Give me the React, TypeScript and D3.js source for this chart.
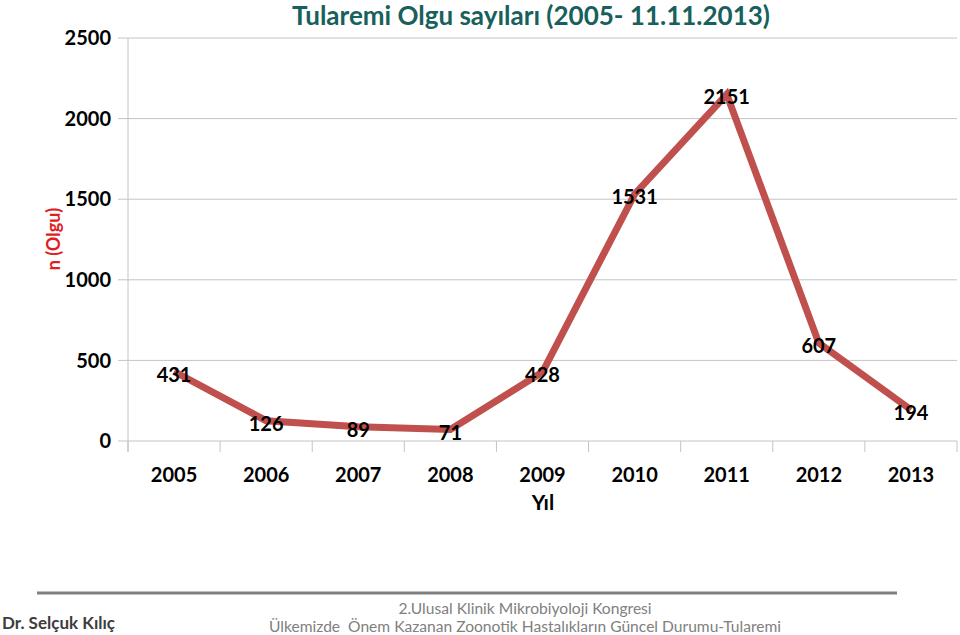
import React from "react";
import * as d3 from "d3";

const years = ["2005", "2006", "2007", "2008", "2009", "2010", "2011", "2012", "2013"];
const cases = [431, 126, 89, 71, 428, 1531, 2151, 607, 194];
const yTicks = [0, 500, 1000, 1500, 2000, 2500];

const W = 960;
const H = 635;
const FONT = "Lato, 'Open Sans', sans-serif";

const App = () => {
  const x = d3.scaleBand().domain(years).range([128, 957]);
  const y = d3.scaleLinear().domain([0, 2500]).range([441, 38]);
  const cx = (yr: string) => (x(yr) as number) + x.bandwidth() / 2;

  const path = d3
    .line<number>()
    .x((d, i) => cx(years[i]))
    .y((d) => y(d))
    .curve(d3.curveLinear)(cases);

  const edges = years.map((yr) => x(yr) as number).concat([957]);

  return (
    <svg
      width={W}
      height={H}
      style={{ position: "absolute", left: 0, top: 0, background: "#fff" }}
      fontFamily={FONT}
    >
      {/* title */}
      <text x={531} y={25} textAnchor="middle" fontSize={26} fontWeight="bold" fill="#17605c">
        Tularemi Olgu sayıları (2005- 11.11.2013)
      </text>

      {/* grid + y labels */}
      {yTicks.map((t) => (
        <g key={t}>
          <line x1={118} x2={957} y1={y(t)} y2={y(t)} stroke="#c4c4c4" strokeWidth={1} />
          <text x={111} y={y(t)} dy="0.36em" textAnchor="end" fontSize={20} fontWeight="bold" fill="#000">
            {t}
          </text>
        </g>
      ))}
      <line x1={128} x2={128} y1={38} y2={452} stroke="#c4c4c4" strokeWidth={1} />

      {/* x ticks */}
      {edges.map((e, i) => (
        <line key={i} x1={e} x2={e} y1={441} y2={452} stroke="#c4c4c4" strokeWidth={1} />
      ))}
      {years.map((yr) => (
        <text key={yr} x={cx(yr)} y={482} textAnchor="middle" fontSize={20} fontWeight="bold" fill="#000">
          {yr}
        </text>
      ))}

      <text x={543} y={510} textAnchor="middle" fontSize={21} fontWeight="bold" fill="#000">
        Yıl
      </text>
      <text
        transform="translate(60,239) rotate(-90)"
        textAnchor="middle"
        fontSize={18}
        fontWeight="bold"
        fill="#e0201e"
      >
        n (Olgu)
      </text>

      {/* line */}
      <path d={path || ""} fill="none" stroke="#c0504d" strokeWidth={7} strokeLinejoin="miter" />

      {cases.map((v, i) => (
        <text
          key={i}
          x={cx(years[i])}
          y={y(v)}
          dy="0.5em"
          textAnchor="middle"
          fontSize={20}
          fontWeight="bold"
          fill="#000"
        >
          {v}
        </text>
      ))}

      {/* footer */}
      <line x1={37} x2={897} y1={593} y2={593} stroke="#7f7f7f" strokeWidth={3} />
      <text x={2} y={629} fontSize={17} fontWeight="bold" fill="#3c3c3c">
        Dr. Selçuk Kılıç
      </text>
      <text x={525} y={614} textAnchor="middle" fontSize={15.6} fill="#808080">
        2.Ulusal Klinik Mikrobiyoloji Kongresi
      </text>
      <text x={525} y={632} textAnchor="middle" fontSize={15.6} fill="#808080" style={{ whiteSpace: "pre" }}>
        Ülkemizde  Önem Kazanan Zoonotik Hastalıkların Güncel Durumu-Tularemi
      </text>
    </svg>
  );
};

export default App;
